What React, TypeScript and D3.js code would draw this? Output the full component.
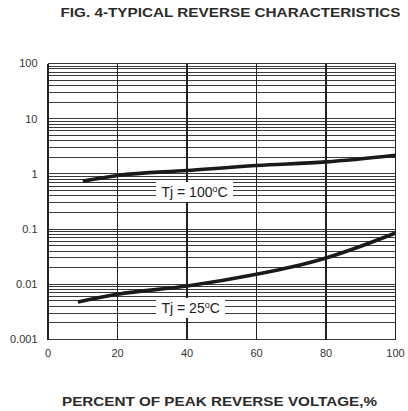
import React from 'react';
import * as d3 from 'd3';

// chart values
const xTicks = [0, 20, 40, 60, 80, 100];
const yTicks = [0.001, 0.01, 0.1, 1, 10, 100];
const yTickLabels = ['0.001', '0.01', '0.1', '1', '10', '100'];

const tj100X = [10, 20, 40, 60, 80, 100];
const tj100Y = [0.74, 0.935, 1.15, 1.42, 1.65, 2.18];

const tj25X = [8.6, 20, 40, 60, 70, 80, 90, 100];
const tj25Y = [0.0048, 0.0066, 0.0093, 0.0152, 0.0205, 0.03, 0.049, 0.085];

const title = 'FIG. 4-TYPICAL REVERSE CHARACTERISTICS';
const xTitle = 'PERCENT OF PEAK REVERSE VOLTAGE,%';

const W = 408;
const H = 411;
const margin = { top: 63.5, right: 12.5, bottom: 71.5, left: 48 };

const App = () => {
  const x = d3.scaleLinear().domain([0, 100]).range([margin.left, W - margin.right]);
  const y = d3.scaleLog().domain([0.001, 100]).range([H - margin.bottom, margin.top]);

  // minor log grid: 1..9 in each decade
  const gridY: number[] = [];
  for (let e = -3; e < 2; e++) {
    for (let k = 1; k < 10; k++) gridY.push(k * Math.pow(10, e));
  }
  gridY.push(100);

  const line = d3.line<[number, number]>()
    .x(d => x(d[0]))
    .y(d => y(d[1]))
    .curve(d3.curveMonotoneX);

  const hot = tj100X.map((v, i) => [v, tj100Y[i]] as [number, number]);
  const cold = tj25X.map((v, i) => [v, tj25Y[i]] as [number, number]);

  const font = 'Arial, "Liberation Sans", Helvetica, sans-serif';

  return (
    <svg width={W} height={H} style={{ position: 'absolute', left: 0, top: 0, display: 'block', background: '#fff' }}>
      <text x={60.5} y={16.5} textLength={340} lengthAdjust="spacingAndGlyphs" fontFamily={font} fontWeight="bold" fontSize={13} fill="#2a2a2a">
        {title}
      </text>

      <g shapeRendering="crispEdges">
        {gridY.map((v, i) => (
          <line key={'h' + i} x1={x(0)} x2={x(100)} y1={y(v)} y2={y(v)} stroke="#3a3a3a" strokeWidth={1} />
        ))}
        {xTicks.map(v => (
          <line key={'v' + v} x1={x(v)} x2={x(v)} y1={y(0.001)} y2={y(100)} stroke="#222" strokeWidth={1.3} />
        ))}
      </g>

      <path d={line(hot) || ''} fill="none" stroke="#1a1a1a" strokeWidth={3.6} strokeLinecap="butt" />
      <path d={line(cold) || ''} fill="none" stroke="#1a1a1a" strokeWidth={3.6} strokeLinecap="butt" />

      <rect x={156} y={182} width={77} height={20} fill="#fff" />
      <text x={161.5} y={196.8} fontFamily={font} fontSize={14} fill="#222">
        Tj = 100<tspan dy={-5} fontSize={9}>o</tspan><tspan dy={5}>C</tspan>
      </text>

      <rect x={156} y={298} width={69} height={20} fill="#fff" />
      <text x={161.5} y={312.8} fontFamily={font} fontSize={14} fill="#222">
        Tj = 25<tspan dy={-5} fontSize={9}>o</tspan><tspan dy={5}>C</tspan>
      </text>

      {yTicks.map((v, i) => (
        <text key={'yl' + i} x={37.5} y={y(v)} dy="0.35em" textAnchor="end" fontFamily={font} fontSize={11} fill="#333">
          {yTickLabels[i]}
        </text>
      ))}
      {xTicks.map(v => (
        <text key={'xl' + v} x={x(v)} y={357} textAnchor="middle" fontFamily={font} fontSize={11} fill="#333">
          {v}
        </text>
      ))}

      <text x={62} y={405.5} textLength={315} lengthAdjust="spacingAndGlyphs" fontFamily={font} fontWeight="bold" fontSize={13} fill="#2a2a2a">
        {xTitle}
      </text>
    </svg>
  );
};

export default App;
